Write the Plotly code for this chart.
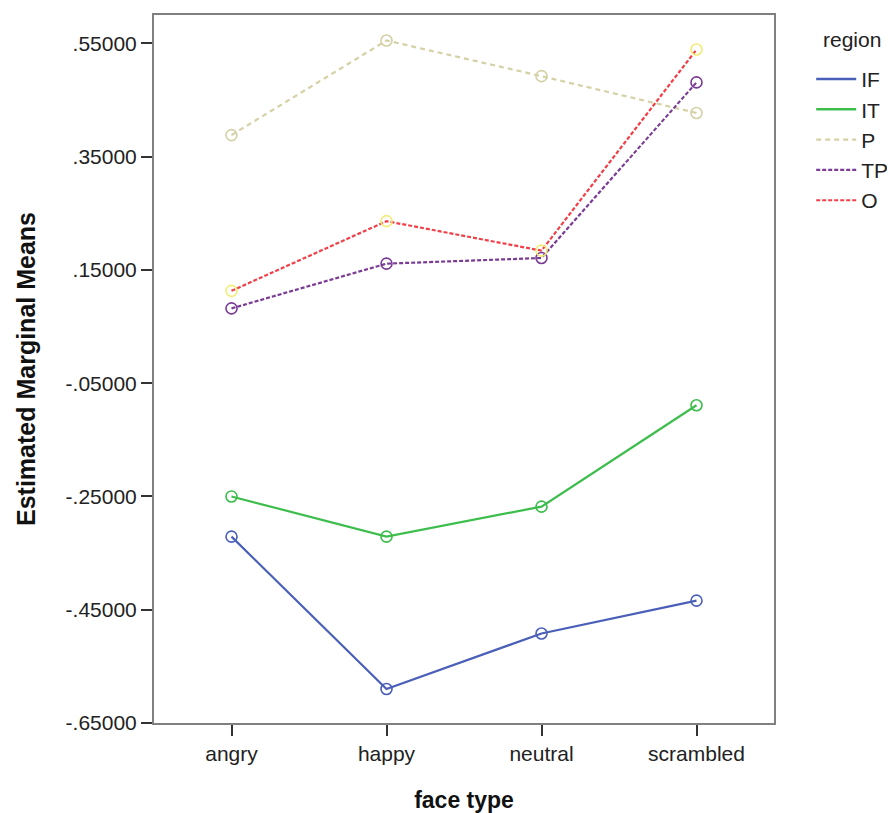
import plotly.graph_objects as go

categories = ["angry", "happy", "neutral", "scrambled"]
regions = ["IF", "IT", "P", "TP", "O"]
IF = [-0.321, -0.590, -0.492, -0.434]
IT = [-0.250, -0.321, -0.268, -0.089]
P = [0.388, 0.555, 0.492, 0.427]
TP = [0.082, 0.161, 0.171, 0.481]
O = [0.113, 0.236, 0.184, 0.539]
yticks = [0.55, 0.35, 0.15, -0.05, -0.25, -0.45, -0.65]
yticklabels = [".55000", ".35000", ".15000", "-.05000", "-.25000", "-.45000", "-.65000"]

series = {"IF": IF, "IT": IT, "P": P, "TP": TP, "O": O}
line_colors = {"IF": "#4a5fb8", "IT": "#3dbd4c", "P": "#d4d1a6", "TP": "#7a3b94", "O": "#f23f48"}
marker_colors = {"IF": "#4a5fb8", "IT": "#3dbd4c", "P": "#d4d1a6", "TP": "#7a3b94", "O": "#f2ec78"}
dashes = {"IF": "solid", "IT": "solid", "P": "5px,4px", "TP": "4px,2px", "O": "4px,2px"}

fig = go.Figure()
for r in regions:
    fig.add_trace(go.Scatter(
        x=categories, y=series[r], mode="lines+markers", showlegend=False,
        line=dict(color=line_colors[r], width=2.2, dash=dashes[r]),
        marker=dict(symbol="circle-open", size=11, color=marker_colors[r], line=dict(width=1.6, color=marker_colors[r])),
    ))
for r in regions:
    fig.add_trace(go.Scatter(
        x=[None], y=[None], mode="lines", name=r,
        line=dict(color=line_colors[r], width=2.5 if dashes[r] == "solid" else 2.2, dash=dashes[r]),
    ))

fig.add_annotation(
    text="region", xref="paper", yref="paper", x=1.075, y=0.965,
    xanchor="left", yanchor="middle", showarrow=False,
    font=dict(size=21, color="#222"),
)

fig.update_layout(
    width=895, height=813,
    margin=dict(l=146, r=129, t=7, b=98, autoexpand=False),
    paper_bgcolor="white", plot_bgcolor="white",
    font=dict(family="Liberation Sans, Arial, sans-serif", size=21, color="#222"),
    legend=dict(
        x=1.060, xanchor="left", y=0.938, yanchor="top",
        font=dict(size=21), itemwidth=40, tracegroupgap=0,
        bgcolor="rgba(0,0,0,0)",
    ),
    xaxis=dict(
        type="category", range=[-0.5, 3.5], showgrid=False, zeroline=False,
        showline=True, linecolor="#808080", linewidth=2, mirror=True,
        ticks="outside", ticklen=11, tickcolor="#333", tickwidth=2,
        tickfont=dict(size=21, color="#222"), automargin=False,
        title=dict(text="<b>face type</b>", font=dict(size=23, color="#111"), standoff=28),
    ),
    yaxis=dict(
        range=[-0.65, 0.6], showgrid=False, zeroline=False,
        tickvals=yticks, ticktext=yticklabels,
        showline=True, linecolor="#808080", linewidth=2, mirror=True,
        ticks="outside", ticklen=11, tickcolor="#333", tickwidth=2,
        tickfont=dict(size=21, color="#222"), automargin=False,
        title=dict(text="<b>Estimated Marginal Means</b>", font=dict(size=25, color="#111"), standoff=23),
    ),
)
fig.write_html("out.html")
